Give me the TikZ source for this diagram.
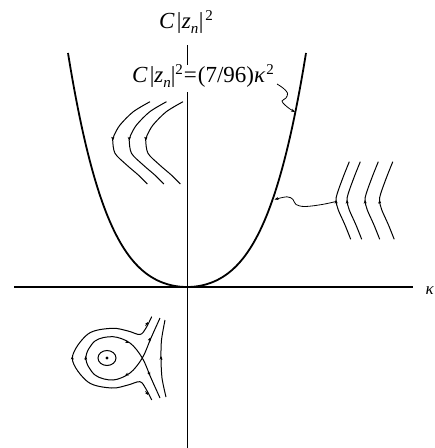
\documentclass[tikz,border=0pt]{standalone}
\usepackage{fontspec}
\setmainfont{Liberation Serif}
\usetikzlibrary{arrows.meta}
\tikzset{
  axis/.style={line width=1.8pt},
  curvebold/.style={line width=1.8pt},
  flow/.style={line width=1pt},
  thinlink/.style={line width=0.8pt},
  tip/.style={line width=0.6pt,-{Stealth[length=3.5pt,width=3pt]}},
  lbl/.style={inner sep=0pt,anchor=base west},
}
\newcommand{\supr}[1]{\raisebox{0.75ex}{\fontsize{15}{16}\selectfont #1}}
\newcommand{\subr}[1]{\raisebox{-0.45ex}{\fontsize{15}{16}\selectfont #1}}
\begin{document}
\begin{tikzpicture}[x=1pt,y=-1pt]
\useasboundingbox (0,0) rectangle (435,448);
% labels
\node[lbl] (top) at (159,28.3)
  {\fontsize{23}{27}\selectfont\textit{C}\hspace{2pt}|\hspace{0.5pt}\textit{z}\subr{\textit{n}}\hspace{0.5pt}|\hspace{2pt}\supr{2}};
\node[lbl] (eq) at (132,82.3)
  {\fontsize{23}{27}\selectfont\textit{C}\hspace{2pt}|\textit{z}\subr{\textit{n}}|\supr{2}\hspace{1pt}=\hspace{1pt}(7/96)\textit{κ}\hspace{1pt}\supr{2}};
\node[lbl] (kap) at (425.5,294) {\fontsize{17}{20}\selectfont\textit{κ}};
% axes
\coordinate (vt) at (187.5,45);
\coordinate (vm) at (187.5,65);
\coordinate (vb0) at (187.5,92);
\coordinate (vb) at (187.5,448);
\coordinate (hl) at (14,287);
\coordinate (hr) at (413,287);
\draw[axis] (vt) -- (vm);
\draw[axis] (vb0) -- (vb);
\draw[axis] (hl) -- (hr);
% parabola-like boundary
\draw[curvebold] plot[domain=-119:119,samples=120,smooth]
  ({187+\x},{287-(70.15*(\x/100)^2+67.16*(\x/100)^4)});
% squiggle from equation to curve
\coordinate (sq0) at (277,84);
\coordinate (sq1) at (295,112);
\draw[thinlink,-{Stealth[length=4pt,width=3pt]}] plot[smooth,tension=0.6] coordinates
  {(sq0) (283,88) (287.5,93) (286,98) (282,101) (285,105) (290,109) (sq1)};
% wavy link from curve to right flow lines
\coordinate (wv0) at (336,201.5);
\coordinate (wv1) at (274.5,199.5);
\draw[thinlink,-{Stealth[length=4pt,width=3pt]}] plot[smooth,tension=0.6] coordinates
  {(wv0) (322,204.5) (305,206.5) (296,204.5) (293,199.5) (287,196.8) (wv1)};
% left flow lines
\foreach \dx in {0,16.5,33}{
  \draw[flow] plot[smooth] coordinates
   {({150+\dx},101.7) ({133.3+\dx},111.7) ({120+\dx},125) ({114+\dx},135.5) ({112.7+\dx},140) ({115+\dx},153.3) ({126.7+\dx},165) ({138.3+\dx},175) ({147.3+\dx},184)};
  \draw[tip] ({112.75+\dx},137) -- ({112.7+\dx},140.5);
}
% right flow lines
\foreach \dx in {0,11,29,43.5}{
  \draw[flow] plot[smooth] coordinates
   {({349.3+\dx},161.7) ({343.3+\dx},176.7) ({337.3+\dx},193.3) ({336+\dx},200.7) ({338.3+\dx},210) ({345+\dx},225) ({350.7+\dx},239.3)};
  \draw[tip] ({336.2+\dx},203.5) -- ({336+\dx},200);
}
% bottom-left island
\draw[flow] (107,358) ellipse[x radius=9,y radius=7.5];
\fill (107,358) circle[radius=1.6];
\draw[flow] plot[smooth,tension=0.55] coordinates
  {(160,318) (151,338) (142.3,358) (130,373) (113,380) (95,375) (85.7,358) (95,341) (113,336.7) (130,343) (142.3,358) (151,378) (160,398)};
\draw[flow] plot[smooth,tension=0.55] coordinates
  {(151.7,316.7) (146,328) (140,334.5) (128,331) (111.7,328.3) (88,334) (72.3,358.3) (88,382) (111.7,388) (128,385) (140,381.7) (146,389) (151.7,400)};
\draw[flow] plot[smooth] coordinates
  {(165,320) (161.5,340) (161,358) (162,378) (166,397)};
% arrow marks on island curves
\draw[tip] (72.3,360) -- (72.3,356);
\draw[tip] (85.7,360) -- (85.7,356);
\draw[tip] (161,360) -- (161,356);
\draw[tip] (126,341.5) -- (129,343);
\draw[tip] (128,374) -- (125,375.5);
\draw[tip] (149,341) -- (150.5,337.5);
\draw[tip] (148.5,372) -- (150,375.5);
\draw[tip] (145.5,326) -- (148,322);
\draw[tip] (145.5,391) -- (148,395);
\end{tikzpicture}
\end{document}
